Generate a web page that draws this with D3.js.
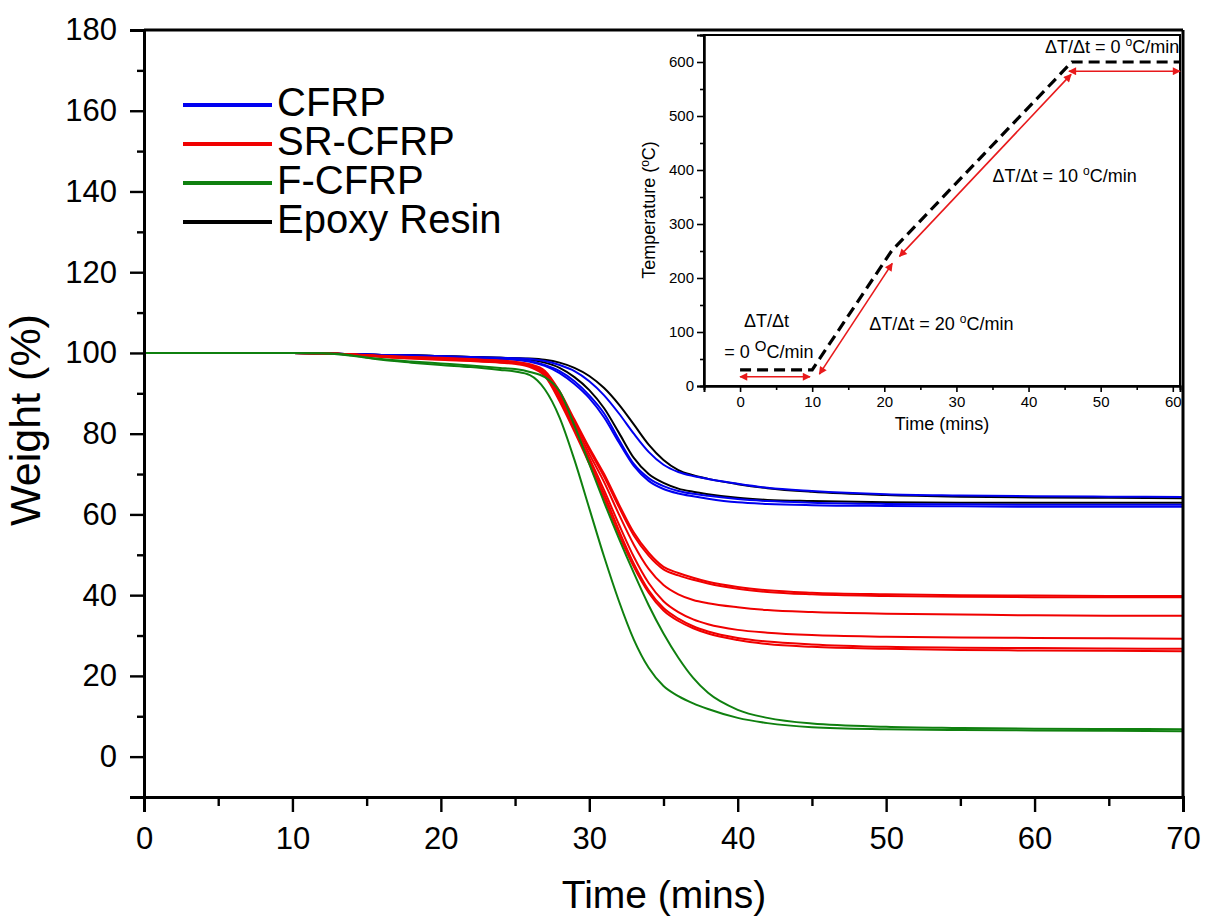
<!DOCTYPE html>
<html>
<head>
<meta charset="utf-8">
<script src="https://cdn.jsdelivr.net/npm/d3@7/dist/d3.min.js"></script>
<style>
  body { margin: 0; background: #fff; }
  svg text { font-family: Arial, "Liberation Sans", sans-serif; fill: #000; }
</style>
</head>
<body>
<div class="svgGraphique"></div>
<script>
// Temps commun (min) pour toutes les courbes TGA
const times = [0, 5, 10, 12, 13, 14, 15, 16, 18, 20, 22, 24, 25, 26, 27, 28, 29, 30, 31, 32, 33, 34, 35, 36, 37, 38, 40, 42, 45, 50, 55, 60, 65, 70];

// Epoxy resin (noir)
const epoxy1 = [100, 100, 100, 99.9, 99.8, 99.7, 99.6, 99.5, 99.4, 99.2, 99.0, 98.8, 98.7, 98.6, 98.3, 97.6, 96.3, 94.3, 91.3, 87.2, 82.3, 77.3, 73.5, 71.0, 69.7, 68.8, 67.5, 66.5, 65.6, 64.8, 64.4, 64.2, 64.1, 64.0];
const epoxy2 = [100, 100, 100, 99.9, 99.8, 99.7, 99.6, 99.5, 99.4, 99.2, 99.0, 98.8, 98.6, 98.3, 97.6, 96.3, 94.0, 90.8, 86.3, 80.2, 74.0, 70.0, 67.8, 66.4, 65.6, 65.0, 64.1, 63.6, 63.3, 63.0, 62.9, 62.9, 62.9, 62.9];

// CFRP (bleu)
const cfrp1 = [100, 100, 100, 99.9, 99.8, 99.7, 99.6, 99.5, 99.4, 99.2, 99.0, 98.8, 98.7, 98.5, 98.0, 97.0, 95.5, 93.0, 89.5, 85.0, 80.0, 75.5, 72.3, 70.5, 69.5, 68.8, 67.6, 66.6, 65.8, 65.0, 64.7, 64.5, 64.4, 64.3];
const cfrp2 = [100, 100, 100, 99.9, 99.8, 99.7, 99.6, 99.5, 99.3, 99.1, 98.9, 98.6, 98.4, 98.0, 97.0, 95.5, 93.0, 89.5, 85.0, 78.5, 72.5, 69.0, 67.0, 65.8, 65.1, 64.6, 63.8, 63.3, 62.9, 62.6, 62.5, 62.4, 62.4, 62.4];
const cfrp3 = [100, 100, 100, 99.9, 99.8, 99.7, 99.6, 99.5, 99.3, 99.1, 98.8, 98.5, 98.3, 97.8, 96.8, 95.0, 92.3, 88.8, 84.0, 77.8, 72.0, 68.3, 66.3, 65.2, 64.5, 63.9, 63.0, 62.6, 62.3, 62.1, 62.0, 61.9, 61.9, 61.9];

// SR-CFRP (rouge)
const sr1 = [100, 100, 100, 99.9, 99.8, 99.6, 99.5, 99.3, 99.0, 98.8, 98.5, 98.1, 97.8, 97.2, 95.6, 90.5, 83.5, 76.5, 70.0, 62.5, 55.5, 50.5, 47.0, 45.5, 44.3, 43.3, 42.0, 41.2, 40.6, 40.2, 40.0, 39.9, 39.8, 39.8];
const sr2 = [100, 100, 100, 99.9, 99.8, 99.6, 99.4, 99.2, 98.9, 98.7, 98.4, 98.0, 97.7, 97.0, 95.2, 90.0, 83.0, 76.0, 69.3, 61.8, 54.8, 49.8, 46.4, 44.9, 43.8, 42.9, 41.6, 40.8, 40.2, 39.8, 39.6, 39.5, 39.5, 39.5];
const sr3 = [100, 100, 100, 99.9, 99.8, 99.6, 99.4, 99.2, 98.9, 98.6, 98.3, 97.9, 97.6, 96.9, 95.0, 89.5, 82.3, 75.0, 68.0, 60.0, 52.5, 46.5, 42.5, 40.2, 38.8, 38.0, 37.0, 36.3, 35.8, 35.4, 35.2, 35.0, 34.9, 34.9];
const sr4 = [100, 100, 100, 99.9, 99.8, 99.6, 99.4, 99.2, 98.8, 98.5, 98.2, 97.8, 97.5, 96.8, 94.8, 89.0, 81.5, 74.0, 66.0, 57.5, 49.5, 43.0, 38.5, 35.8, 34.0, 32.8, 31.4, 30.7, 30.1, 29.7, 29.5, 29.4, 29.3, 29.2];
const sr5 = [100, 100, 100, 99.9, 99.8, 99.6, 99.4, 99.1, 98.7, 98.4, 98.1, 97.7, 97.4, 96.7, 94.6, 88.5, 81.0, 73.2, 65.0, 56.0, 47.8, 41.2, 36.8, 34.2, 32.3, 31.0, 29.4, 28.5, 27.8, 27.2, 27.0, 26.9, 26.8, 26.7];
const sr6 = [100, 100, 100, 99.9, 99.8, 99.6, 99.3, 99.0, 98.6, 98.3, 98.0, 97.6, 97.3, 96.5, 94.3, 88.0, 80.5, 72.5, 64.0, 55.0, 47.0, 40.6, 36.2, 33.6, 31.8, 30.5, 28.9, 27.9, 27.2, 26.7, 26.4, 26.3, 26.2, 26.1];

// F-CFRP (vert)
const f1 = [100, 100, 100, 99.9, 99.7, 99.3, 98.8, 98.3, 97.6, 97.0, 96.5, 95.8, 95.4, 94.5, 91.0, 84.0, 73.5, 61.5, 49.5, 38.5, 29.0, 22.0, 17.5, 15.0, 13.2, 11.8, 9.6, 8.3, 7.3, 6.8, 6.6, 6.5, 6.4, 6.3];
const f2 = [100, 100, 100, 99.9, 99.8, 99.4, 98.9, 98.5, 97.9, 97.4, 96.9, 96.3, 96.0, 95.3, 94.0, 90.5, 82.0, 72.5, 63.0, 54.0, 45.5, 37.5, 30.5, 24.5, 19.5, 15.8, 11.6, 9.6, 8.2, 7.4, 7.1, 6.9, 6.85, 6.8];

// Légende
const legendLabels = ["CFRP", "SR-CFRP", "F-CFRP", "Epoxy Resin"];
const legendColors = ["#0000f0", "#f00000", "#0f800f", "#000000"];

// Encart : programme de température
const rampTime = [0, 10, 21, 46, 61];
const rampTemp = [30, 30, 250, 600, 600];
const arrowStart = [[0, 17], [11, 22], [22.1, 240], [45.6, 583]];
const arrowEnd = [[9.7, 17], [21.1, 227], [45.9, 577], [61, 583]];

const width = 1205, height = 921;

const svg = d3.create('svg')
    .attr('width', width)
    .attr('height', height)
    .style('background-color', '#fff');

// ---- graphique principal ----
const x = d3.scaleLinear().domain([0, 70]).range([144, 1183]);
const y = d3.scaleLinear().domain([-10, 180]).range([797, 30]);

const line = d3.line()
    .x((d, i) => x(times[i]))
    .y(d => y(d))
    .curve(d3.curveMonotoneX);

const series = [
    { values: epoxy1, color: legendColors[3] },
    { values: epoxy2, color: legendColors[3] },
    { values: cfrp1, color: legendColors[0] },
    { values: cfrp2, color: legendColors[0] },
    { values: cfrp3, color: legendColors[0] },
    { values: sr1, color: legendColors[1] },
    { values: sr2, color: legendColors[1] },
    { values: sr3, color: legendColors[1] },
    { values: sr4, color: legendColors[1] },
    { values: sr5, color: legendColors[1] },
    { values: sr6, color: legendColors[1] },
    { values: f1, color: legendColors[2] },
    { values: f2, color: legendColors[2] }
];

svg.append('g')
    .selectAll('path')
    .data(series)
    .join('path')
    .attr('d', d => line(d.values))
    .attr('fill', 'none')
    .attr('stroke', d => d.color)
    .attr('stroke-width', 2);

// axes
const yAxis = d3.axisLeft(y).tickValues(d3.range(0, 181, 20)).tickSize(14).tickPadding(13);
const yMinor = d3.axisLeft(y).tickValues(d3.range(10, 180, 20)).tickSize(7).tickFormat('');
const xAxis = d3.axisBottom(x).tickValues(d3.range(0, 71, 10)).tickSize(15).tickPadding(15);
const xMinor = d3.axisBottom(x).tickValues(d3.range(5, 70, 10)).tickSize(9).tickFormat('');

function styleAxis(g, fontSize, sw) {
    g.select('.domain').attr('stroke-width', sw);
    g.selectAll('.tick line').attr('stroke-width', sw * 0.8);
    g.selectAll('text').attr('font-size', fontSize).attr('font-family', 'Arial, "Liberation Sans", sans-serif');
}

svg.append('g').attr('transform', `translate(${x(0)},0)`).call(yMinor).call(g => styleAxis(g, 31, 3));
svg.append('g').attr('transform', `translate(${x(0)},0)`).call(yAxis).call(g => styleAxis(g, 31, 3));
svg.append('g').attr('transform', `translate(0,${y(-10)})`).call(xMinor).call(g => styleAxis(g, 31, 3));
svg.append('g').attr('transform', `translate(0,${y(-10)})`).call(xAxis).call(g => styleAxis(g, 31, 3));

// cadre haut et droite
svg.append('line').attr('x1', x(0)).attr('x2', x(70)).attr('y1', y(180)).attr('y2', y(180))
    .attr('stroke', '#000').attr('stroke-width', 3);
svg.append('line').attr('x1', x(70)).attr('x2', x(70)).attr('y1', y(180)).attr('y2', y(-10))
    .attr('stroke', '#000').attr('stroke-width', 3);

// titres
svg.append('text').attr('x', 664).attr('y', 908).attr('text-anchor', 'middle')
    .attr('font-size', 39).text('Time (mins)');
svg.append('text').attr('transform', 'translate(40,420) rotate(-90)').attr('text-anchor', 'middle')
    .attr('font-size', 43).text('Weight (%)');

// légende
const legend = svg.append('g');
legendLabels.forEach((lab, i) => {
    const ly = 105 + i * 39;
    legend.append('line').attr('x1', 183).attr('x2', 272).attr('y1', ly).attr('y2', ly)
        .attr('stroke', legendColors[i]).attr('stroke-width', 4);
    legend.append('text').attr('x', 277).attr('y', ly + 11).attr('font-size', 40).text(lab);
});

// ---- encart ----
const ix = d3.scaleLinear().domain([-5, 61]).range([704, 1180]);
const iy = d3.scaleLinear().domain([0, 650]).range([386, 35]);

const inset = svg.append('g');
inset.append('rect').attr('x', ix(-5)).attr('y', iy(650))
    .attr('width', ix(61) - ix(-5)).attr('height', iy(0) - iy(650))
    .attr('fill', '#fff').attr('stroke', '#000').attr('stroke-width', 2);

const ramp = d3.line().x((d, i) => ix(rampTime[i])).y(d => iy(d));
inset.append('path').attr('d', ramp(rampTemp))
    .attr('fill', 'none').attr('stroke', '#000').attr('stroke-width', 3.2)
    .attr('stroke-dasharray', '11,6');

// flèches doubles
svg.append('defs').append('marker')
    .attr('id', 'tip').attr('viewBox', '0 0 10 10').attr('refX', 9).attr('refY', 5)
    .attr('markerWidth', 11).attr('markerHeight', 8).attr('markerUnits', 'userSpaceOnUse')
    .attr('orient', 'auto-start-reverse')
    .append('path').attr('d', 'M0,0 L10,5 L0,10 z').attr('fill', '#e8191b');

inset.append('g').selectAll('line')
    .data(arrowStart)
    .join('line')
    .attr('x1', d => ix(d[0])).attr('y1', d => iy(d[1]))
    .attr('x2', (d, i) => ix(arrowEnd[i][0])).attr('y2', (d, i) => iy(arrowEnd[i][1]))
    .attr('stroke', '#e8191b').attr('stroke-width', 1.6)
    .attr('marker-start', 'url(#tip)').attr('marker-end', 'url(#tip)');

const iyAxis = d3.axisLeft(iy).tickValues(d3.range(0, 601, 100)).tickSize(7).tickPadding(3);
const iyMinor = d3.axisLeft(iy).tickValues(d3.range(50, 651, 100)).tickSize(4).tickFormat('');
const ixAxis = d3.axisBottom(ix).tickValues(d3.range(0, 61, 10)).tickSize(6).tickPadding(4);
const ixMinor = d3.axisBottom(ix).tickValues(d3.range(5, 60, 10)).tickSize(4).tickFormat('');

inset.append('g').attr('transform', `translate(${ix(-5)},0)`).call(iyMinor).call(g => styleAxis(g, 15, 2));
inset.append('g').attr('transform', `translate(${ix(-5)},0)`).call(iyAxis).call(g => styleAxis(g, 15, 2));
inset.append('g').attr('transform', `translate(0,${iy(0)})`).call(ixMinor).call(g => styleAxis(g, 15, 2));
inset.append('g').attr('transform', `translate(0,${iy(0)})`).call(ixAxis).call(g => styleAxis(g, 15, 2));
inset.selectAll('.tick text').attr('fill', '#222');

inset.append('text').attr('x', 942).attr('y', 430).attr('text-anchor', 'middle')
    .attr('font-size', 18).attr('fill', '#222').text('Time (mins)');
const tLab = inset.append('text').attr('transform', 'translate(655,210) rotate(-90)')
    .attr('text-anchor', 'middle').attr('font-size', 18).attr('fill', '#222');
tLab.append('tspan').text('Temperature (');
tLab.append('tspan').attr('font-size', 12).attr('dy', -6).text('o');
tLab.append('tspan').attr('dy', 6).text('C)');

// annotations
function annot(tx, ty, anchor, before, deg, after, degSize) {
    const t = inset.append('text').attr('x', ix(tx)).attr('y', iy(ty))
        .attr('text-anchor', anchor).attr('font-size', 18).attr('fill', '#222');
    t.append('tspan').text(before);
    if (deg) {
        t.append('tspan').attr('font-size', degSize).attr('dy', -7).text(deg);
        t.append('tspan').attr('dy', 7).text(after);
    }
}
annot(60.9, 617, 'end', 'ΔT/Δt = 0 ', 'o', 'C/min', 12);
annot(35.0, 378, 'start', 'ΔT/Δt = 10 ', 'o', 'C/min', 12);
annot(17.9, 104, 'start', 'ΔT/Δt = 20 ', 'o', 'C/min', 12);
annot(0.55, 109, 'start', 'ΔT/Δt', null, null, 0);
annot(-2.2, 52, 'start', '= 0 ', 'O', 'C/min', 15);

document.querySelector('.svgGraphique').appendChild(svg.node());
</script>
</body>
</html>
